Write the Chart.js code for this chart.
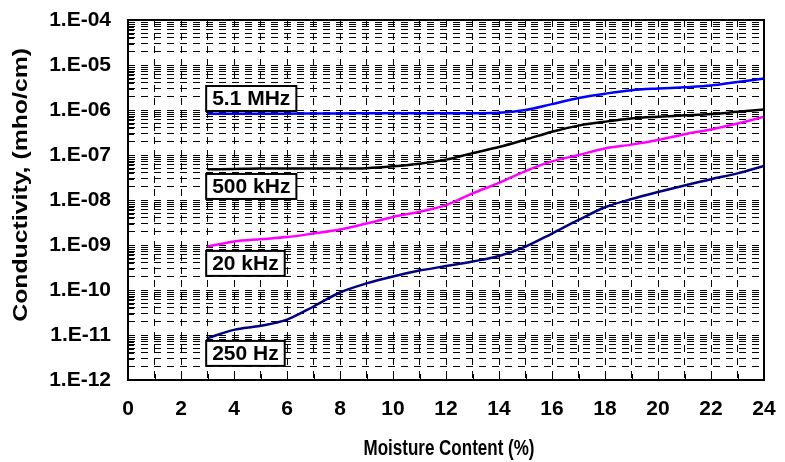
<!DOCTYPE html>
<html>
<head>
<meta charset="utf-8">
<script src="https://cdn.jsdelivr.net/npm/chart.js@4"></script>
<style>
  html, body { margin: 0; padding: 0; background: #fff; }
  #wrap { width: 785px; height: 462px; }
</style>
</head>
<body>
<div id="wrap"><canvas id="chart"></canvas></div>
<script>
// moisture content (%) and conductivity (mho/cm)
const moisture = [3, 4, 5, 6, 7, 8, 9, 10, 11, 12, 13, 14, 15, 16, 17, 18, 19, 20, 21, 22, 23, 24];
const mhz51  = [8.3e-7, 8.3e-7, 8.3e-7, 8.3e-7, 8.4e-7, 8.4e-7, 8.5e-7, 8.5e-7, 8.5e-7, 8.5e-7, 8.5e-7, 8.7e-7,
                1.0e-6, 1.35e-6, 1.85e-6, 2.3e-6, 2.75e-6, 3.0e-6, 3.2e-6, 3.5e-6, 4.2e-6, 5.0e-6];
const khz500 = [4.8e-8, 4.9e-8, 5.0e-8, 5.0e-8, 5.0e-8, 5.0e-8, 5.1e-8, 5.6e-8, 6.4e-8, 7.9e-8, 1.1e-7, 1.5e-7,
                2.2e-7, 3.3e-7, 4.5e-7, 5.5e-7, 6.5e-7, 7.1e-7, 7.6e-7, 8.1e-7, 9.1e-7, 1.02e-6];
const khz20  = [9.2e-10, 1.2e-9, 1.35e-9, 1.5e-9, 1.8e-9, 2.2e-9, 3.0e-9, 4.2e-9, 5.5e-9, 7.7e-9, 1.4e-8, 2.4e-8,
                4.4e-8, 7.2e-8, 1.0e-7, 1.4e-7, 1.7e-7, 2.15e-7, 2.9e-7, 3.7e-7, 5.0e-7, 7.1e-7];
const hz250  = [8.5e-12, 1.3e-11, 1.6e-11, 2.2e-11, 4.3e-11, 8.8e-11, 1.4e-10, 2.0e-10, 2.7e-10, 3.4e-10, 4.3e-10, 5.7e-10,
                9.2e-10, 1.8e-9, 3.6e-9, 6.9e-9, 1.05e-8, 1.5e-8, 2.1e-8, 2.9e-8, 3.9e-8, 5.7e-8];

const seriesNames = ['5.1 MHz', '500 kHz', '20 kHz', '250 Hz'];
// where each name box sits, in data units (left edge x, centre y)
const nameBoxX = 2.95;
const nameBoxY = [1.8e-6, 2.0e-8, 3.9e-10, 3.9e-12];

const xTickLabels = [0, 2, 4, 6, 8, 10, 12, 14, 16, 18, 20, 22, 24];
const decadeExps = [-12, -11, -10, -9, -8, -7, -6, -5, -4];
const decadeLabels = ['1.E-12', '1.E-11', '1.E-10', '1.E-09', '1.E-08', '1.E-07', '1.E-06', '1.E-05', '1.E-04'];
const xTitle = 'Moisture Content (%)';
const yTitle = 'Conductivity, (mho/cm)';

const family = 'Arial, "Liberation Sans", sans-serif';
const boldFont = { family: family, size: 21, weight: 'bold' };

function points(values) {
    return moisture.map((m, i) => ({ x: m, y: values[i] }));
}

// frame, inward ticks, the boxed series names and both axis titles
// (the titles in the original are drawn tall and narrow, hence the scale)
const decorations = {
    id: 'decorations',
    afterDatasetsDraw(chart) {
        const { ctx, chartArea: a, scales: { x, y } } = chart;
        ctx.save();
        ctx.strokeStyle = '#000';
        ctx.lineWidth = 1;
        ctx.beginPath();
        y.ticks.forEach(t => {
            const py = Math.round(y.getPixelForValue(t.value)) + 0.5;
            ctx.moveTo(a.left, py);
            ctx.lineTo(a.left + 6, py);
        });
        x.ticks.forEach(t => {
            const px = Math.round(x.getPixelForValue(t.value)) + 0.5;
            ctx.moveTo(px, a.bottom);
            ctx.lineTo(px, a.bottom - 6);
        });
        ctx.stroke();

        ctx.lineWidth = 2;
        ctx.strokeRect(a.left, a.top, a.right - a.left, a.bottom - a.top);

        ctx.font = 'bold 21px ' + family;
        ctx.textBaseline = 'middle';
        seriesNames.forEach((name, i) => {
            const left = x.getPixelForValue(nameBoxX);
            const cy = y.getPixelForValue(nameBoxY[i]);
            const w = ctx.measureText(name).width + 12;
            const h = 25;
            ctx.fillStyle = '#fff';
            ctx.fillRect(left, cy - h / 2, w, h);
            ctx.strokeRect(left, cy - h / 2, w, h);
            ctx.fillStyle = '#000';
            ctx.fillText(name, left + 6, cy + 1);
        });

        ctx.textAlign = 'center';
        ctx.font = 'bold 17px ' + family;
        ctx.save();
        ctx.translate((a.left + a.right) / 2 + 3, 449);
        ctx.scale(1, 1.25);
        ctx.fillText(xTitle, 0, 0);
        ctx.restore();

        ctx.save();
        ctx.translate(21, a.top + (a.bottom - a.top) * 0.458);
        ctx.rotate(-Math.PI / 2);
        ctx.scale(1.24, 1);
        ctx.font = 'bold 20px ' + family;
        ctx.fillText(yTitle, 0, 0);
        ctx.restore();
        ctx.restore();
    }
};

new Chart(document.getElementById('chart'), {
    type: 'line',
    data: {
        datasets: [
            { label: seriesNames[0], data: points(mhz51), borderColor: '#0000ff' },
            { label: seriesNames[1], data: points(khz500), borderColor: '#000000' },
            { label: seriesNames[2], data: points(khz20), borderColor: '#ff00ff' },
            { label: seriesNames[3], data: points(hz250), borderColor: '#000080' }
        ]
    },
    options: {
        responsive: true,
        maintainAspectRatio: false,
        animation: false,
        layout: { padding: { top: 20, right: 21, left: 0, bottom: 0 } },
        elements: {
            point: { radius: 0 },
            line: { borderWidth: 2.5, cubicInterpolationMode: 'monotone', fill: false }
        },
        plugins: {
            legend: { display: false },
            tooltip: { enabled: false }
        },
        scales: {
            x: {
                type: 'linear',
                min: 0,
                max: 24,
                afterFit: s => { s.height = 82; s.paddingLeft = 0; s.paddingRight = 0; },
                border: { display: false, dash: [7, 6] },
                grid: { color: '#000', lineWidth: 1, drawTicks: false },
                ticks: {
                    stepSize: 1,
                    autoSkip: false,
                    maxRotation: 0,
                    padding: 17,
                    color: '#000',
                    font: boldFont,
                    callback: v => xTickLabels.includes(v) ? String(v) : ''
                },
                title: { display: false }
            },
            y: {
                type: 'logarithmic',
                min: 1e-12,
                max: 1e-4,
                afterFit: s => { s.width = 128; s.paddingTop = 0; s.paddingBottom = 0; },
                afterBuildTicks: s => {
                    const t = [];
                    decadeExps.forEach((e, i) => {
                        const last = i === decadeExps.length - 1;
                        for (let k = 1; k <= (last ? 1 : 9); k++) {
                            t.push({ value: k * Math.pow(10, e) });
                        }
                    });
                    s.ticks = t;
                },
                border: { display: false, dash: [7, 6] },
                grid: { color: '#000', lineWidth: 1, drawTicks: false },
                ticks: {
                    autoSkip: false,
                    padding: 17,
                    color: '#000',
                    font: boldFont,
                    callback: (v, i) => i % 9 === 0 ? decadeLabels[i / 9] : ''
                },
                title: { display: false }
            }
        }
    },
    plugins: [decorations]
});
</script>
</body>
</html>
